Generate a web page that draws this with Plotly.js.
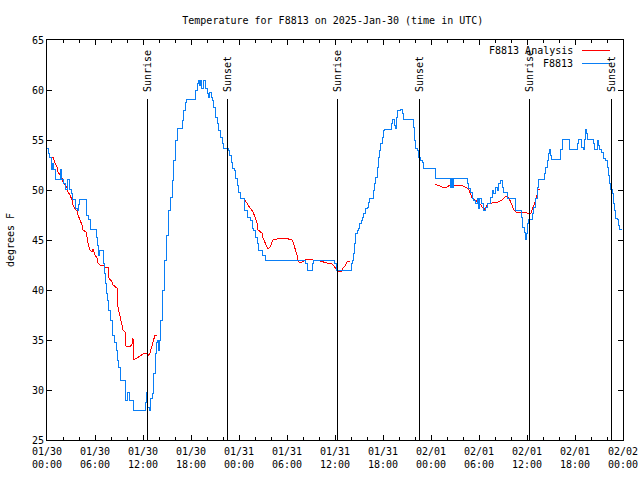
<!DOCTYPE html>
<html>
<head>
<meta charset="utf-8">
<script src="https://cdn.plot.ly/plotly-3.0.1.min.js"></script>
<style>
html,body{margin:0;padding:0;background:#fff;}
#chart{width:640px;height:480px;}
#chart path{shape-rendering:crispEdges;}
</style>
</head>
<body>
<div id="chart"></div>
<script>
// Hours since 2025-01-30 00:00 UTC
const startUTC = Date.UTC(2025, 0, 30);

// F8813 observations (step line)
const obsHours = [0,0.125,0.25,0.5,0.625,0.75,1,1.625,1.75,2,2.25,2.5,2.75,3,3.125,3.5,3.75,3.875,4,4.875,5.125,5.375,6.125,6.25,6.375,6.5,7,7.125,7.25,7.375,7.5,7.625,7.875,8.125,8.375,8.625,8.75,8.875,9.125,9.75,9.8,10,10.25,10.75,12.25,12.375,12.5,12.75,12.875,13.125,13.25,13.5,13.625,13.75,13.875,14,14.125,14.375,14.625,14.875,15.125,15.375,15.625,15.75,16,16.25,16.875,17,17.25,17.375,18.5,18.75,18.875,19,19.125,19.25,19.5,19.75,20,20.125,20.25,20.5,20.625,20.75,21,21.25,21.375,21.625,21.875,22,22.625,22.75,23,23.125,23.375,23.5,23.75,23.875,24.125,24.625,25,25.375,25.625,25.75,26,26.25,26.375,26.875,27.25,32.25,32.5,33.125,33.25,35.875,36.125,38,38.125,38.25,38.375,38.5,38.75,38.875,39,39.25,39.375,39.5,39.75,40,40.125,40.25,40.75,40.875,41,41.25,41.375,41.5,41.625,41.875,42,42.125,43,43.125,43.375,43.5,43.625,43.75,44.125,44.375,44.5,45.75,45.875,46,46.25,46.375,46.625,46.875,47,48.5,50.375,50.5,50.625,50.75,52.5,52.625,52.875,53.125,53.25,53.5,53.75,53.875,54,54.25,54.5,54.75,55,55.375,55.625,55.75,56,56.25,56.375,56.625,56.875,57,57.5,58.5,59.25,59.375,59.625,59.75,59.875,60,60.125,60.625,60.75,61,61.25,61.375,62.125,62.25,62.5,62.625,62.75,62.875,63,64.125,64.375,65.25,66.25,66.375,66.75,67,67.125,67.25,67.375,67.5,68.25,68.375,68.75,68.875,69,69.25,69.5,69.75,70,70.125,70.25,70.375,70.625,70.75,70.875,71,71.25,71.375,71.5,71.75];
const obsTemps = [54.2,53.7,53.3,52.1,52.7,52.1,51.1,52.1,51.1,50.7,50.1,51.1,50.1,49.7,49.1,48.2,48.0,48.6,49.1,47.5,47.1,46.1,45.3,44.5,43.5,44,42.7,41.7,40.7,39.7,39,38,37,35.5,34.8,34,33,32.3,31,30,29,29.8,29,28,28.8,29.8,28.3,28,29.2,29.7,31.7,33.7,34.8,35,34,35,37,40,43,45.5,48,49.3,51,53,55,56.2,57,58,58.8,59.1,60,60.7,61,60.5,61,60.2,61,60.2,59.7,59.3,59.8,59.3,59,58.3,57.3,56.7,56,55.3,54.7,54.2,54,53.5,52.8,52.2,52,51.2,50.5,49.8,49.2,48,47.3,47,46.2,46,45.3,44.7,44,43.5,43,42.7,42,42.7,43,42.7,42,42.7,43,43.7,44.7,45.7,46,46.2,46.7,47,47.3,47.7,48.2,48.3,48.8,49.2,50,50.7,51.3,52.3,53.3,54,54.7,55.3,56,56.1,56.7,57.1,56.5,56.2,57.3,58,58.1,57.7,57.1,56.3,55,54.2,54,53.3,53,52.8,52.2,51.2,50.3,51.2,50.3,51.2,50.7,50.2,49.8,49.2,49,48.7,49.2,48.2,49.2,48.7,48,48.3,48.7,49.3,50,49.7,50.3,50,50.7,51,50.3,49.8,49.2,48,47.3,46.3,45.8,45.1,45.7,46.7,47.1,47.7,48.3,49.2,50.3,51.1,51.7,52.3,53,53.7,54.1,53.5,53.1,54.1,55.1,54.1,54.7,55.1,54.3,54.1,55.1,56.1,55.7,55.1,54.7,54.1,55,54.5,54.1,53.8,53.2,53,52.3,51.5,50.7,50.1,49.7,48.7,48,47.2,47.1,46.5,46.1,46];

// F8813 Analysis (null = gap)
const anaHours = [0.375,0.75,1,1.25,1.375,1.625,1.875,2,2.25,2.5,2.625,2.875,3.125,3.25,3.5,3.75,3.875,4.125,4.375,4.5,4.875,5,5.125,5.375,5.625,5.75,6,6.25,6.375,6.625,7,7.25,7.625,7.75,8.125,8.25,8.625,8.75,8.875,9.125,9.375,9.5,9.75,9.875,10.375,10.625,10.75,10.8,11.25,11.625,12,12.5,12.625,12.875,13.125,13.25,13.5,13.75,
  19,
  24.5,24.75,25.125,25.625,25.75,26,26.25,26.375,26.625,26.875,27,27.25,27.5,27.625,27.875,28.125,28.25,28.75,29.125,29.75,30.125,30.625,30.75,31,31.25,31.375,31.5,31.875,32.25,32.5,33.125,33.25,34.125,34.5,35,35.625,36,36.25,36.5,36.875,37,37.25,37.5,37.875,
  43,
  48.5,48.875,49.375,50,50.375,51.25,52,52.5,52.75,53.125,53.5,53.875,54.25,54.5,54.625,54.875,55.125,55.625,56,56.375,56.875,57.25,57.5,57.75,58.125,58.375,58.625,59.75,60,60.25,60.5,60.75,61,61.25,61.375,61.625];
const anaTemps = [53.3,53.3,52.7,52.3,51.8,51.5,51.2,50.8,50.5,50.2,49.8,49.5,49,48.5,48.1,47.9,47.5,47,46.5,46,45.8,45.3,44.7,44,43.8,44.1,43.5,43.2,42.7,42.5,42.5,42.3,42.3,41.2,40.8,40.5,40.3,40.2,38.3,37.3,36.5,36,35.8,34.4,34.3,34.6,35.2,33,33.2,33.4,33.6,33.7,33.4,33.7,34.5,35,35.5,35.5,
  null,
  49.2,49,48.5,48,47.8,47.3,46.7,46,45.8,45.7,45.2,44.7,44.2,44.1,44.3,44.7,45,45.1,45.2,45.2,45.1,45,44.8,44.2,43.5,43,42.8,42.8,43,43.1,43.1,43,42.9,42.8,42.7,42.6,42.3,42.1,41.8,41.9,42.2,42.4,42.8,42.9,
  null,
  50.6,50.5,50.3,50.3,50.5,50.5,50.4,50.2,50,49.2,49,48.8,48.5,48.2,48,48.3,48.7,48.7,48.8,48.8,49,49.3,49.4,49.2,48.5,48,47.8,47.8,47.7,47.6,47.7,48.2,48.8,49.5,50,50.1];

// Sun events (hours since start)
const eventHours = [12.5, 22.5, 36.25, 46.5, 60.25, 70.5];
const eventLabels = ['Sunrise', 'Sunset', 'Sunrise', 'Sunset', 'Sunrise', 'Sunset'];

const seriesNames = ['F8813 Analysis', 'F8813'];
const seriesColors = ['#ff0000', '#0a7ef5'];

function pad(n){ return (n < 10 ? '0' : '') + n; }
function toDate(h){
  const d = new Date(startUTC + Math.round(h * 3600000));
  return d.getUTCFullYear() + '-' + pad(d.getUTCMonth()+1) + '-' + pad(d.getUTCDate()) + ' ' +
         pad(d.getUTCHours()) + ':' + pad(d.getUTCMinutes()) + ':' + pad(d.getUTCSeconds());
}

const mono = 'DejaVu Sans Mono, Liberation Mono, monospace';

const traces = [
  {x: anaHours.map(toDate), y: anaTemps, mode: 'lines', name: seriesNames[0],
   line: {color: seriesColors[0], width: 1}, connectgaps: false, showlegend: false, hoverinfo: 'skip'},
  {x: obsHours.map(toDate), y: obsTemps, mode: 'lines', name: seriesNames[1],
   line: {color: seriesColors[1], width: 1, shape: 'hv'}, showlegend: false, hoverinfo: 'skip'}
];

const shapes = eventHours.map(h => ({
  type: 'line', xref: 'x', yref: 'y', x0: toDate(h), x1: toDate(h), y0: 25, y1: 59.1,
  line: {color: '#000', width: 1}, layer: 'above'
}));
const annotations = eventHours.map((h, i) => ({
  xref: 'x', yref: 'y', x: toDate(h), y: 59.6, text: eventLabels[i], textangle: -90,
  showarrow: false, xanchor: 'center', yanchor: 'bottom', font: {family: mono, size: 10, color: '#000'}
}));

// Custom legend (text right-aligned, sample line to the right)
const legendY = [0.974, 0.9405];
seriesNames.forEach((n, i) => {
  annotations.push({xref: 'paper', yref: 'paper', x: 0.917, y: legendY[i], text: n, showarrow: false,
    xanchor: 'right', yanchor: 'middle', font: {family: mono, size: 10, color: '#000'}});
  shapes.push({type: 'line', xref: 'paper', yref: 'paper', x0: 0.9288, x1: 0.9774, y0: legendY[i], y1: legendY[i],
    line: {color: seriesColors[i], width: 1}, layer: 'above'});
});

const layout = {
  width: 640, height: 480,
  margin: {l: 47, r: 17, t: 40, b: 40, pad: 0},
  paper_bgcolor: '#fff', plot_bgcolor: '#fff',
  font: {family: mono, size: 10, color: '#000'},
  showlegend: false,
  title: {text: 'Temperature for F8813 on 2025-Jan-30 (time in UTC)', x: 0.52, xanchor: 'center',
          y: 0.958, yanchor: 'middle', font: {family: mono, size: 10, color: '#000'}},
  xaxis: {
    type: 'date', range: [toDate(0), toDate(72)], autorange: false,
    tick0: toDate(0), dtick: 6 * 3600000, tickformat: '%m/%d<br>%H:%M',
    ticks: 'inside', ticklen: 5, tickwidth: 1, tickcolor: '#000', ticklabelstandoff: 2,
    minor: {dtick: 2 * 3600000, tick0: toDate(0), ticks: 'inside', ticklen: 3, tickwidth: 1, tickcolor: '#000', showgrid: false},
    showline: true, linecolor: '#000', linewidth: 1, mirror: 'allticks',
    showgrid: false, zeroline: false, automargin: false,
    tickfont: {family: mono, size: 10, color: '#000'}
  },
  yaxis: {
    range: [25, 65], autorange: false, dtick: 5, tick0: 25,
    ticks: 'inside', ticklen: 5, tickwidth: 1, tickcolor: '#000',
    showline: true, linecolor: '#000', linewidth: 1, mirror: 'allticks',
    showgrid: false, zeroline: false, automargin: false,
    tickfont: {family: mono, size: 10, color: '#000'},
    title: {text: 'degrees F', standoff: 15, font: {family: mono, size: 10, color: '#000'}}
  },
  shapes: shapes,
  annotations: annotations
};

Plotly.newPlot('chart', traces, layout, {displayModeBar: false, staticPlot: true});
</script>
</body>
</html>
